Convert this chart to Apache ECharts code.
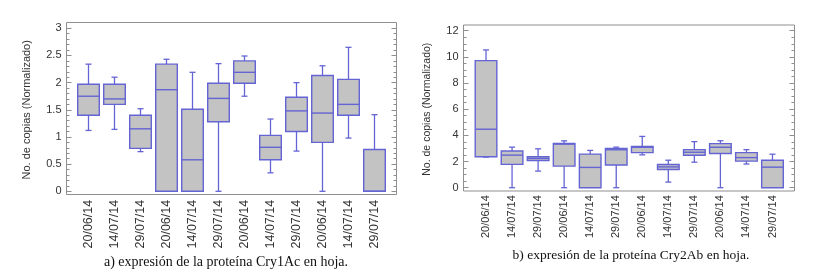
<!DOCTYPE html>
<html>
<head>
<meta charset="utf-8">
<script src="https://cdn.jsdelivr.net/npm/echarts@6/dist/echarts.min.js"></script>
<style>html,body{margin:0;padding:0;background:#fff;}#c{width:828px;height:280px;}</style>
</head>
<body>
<div id="c"></div>
<script>
// Category tick labels (same for both panels)
const categories = ['20/06/14','14/07/14','29/07/14','20/06/14','14/07/14','29/07/14',
                    '20/06/14','14/07/14','29/07/14','20/06/14','14/07/14','29/07/14'];
// Box statistics: [min, Q1, median, Q3, max]
const cry1Ac = [
  [1.12, 1.40, 1.75, 1.97, 2.34],
  [1.14, 1.60, 1.70, 1.97, 2.10],
  [0.73, 0.79, 1.15, 1.40, 1.52],
  [0.00, 0.00, 1.87, 2.34, 2.43],
  [0.00, 0.00, 0.58, 1.51, 2.19],
  [0.00, 1.28, 1.71, 1.99, 2.35],
  [1.75, 1.99, 2.19, 2.40, 2.49],
  [0.34, 0.58, 0.81, 1.03, 1.33],
  [0.74, 1.10, 1.48, 1.73, 2.00],
  [0.00, 0.90, 1.44, 2.13, 2.31],
  [0.98, 1.40, 1.60, 2.06, 2.65],
  [0.00, 0.00, 0.00, 0.77, 1.41]
];
const cry2Ab = [
  [2.34, 2.36, 4.47, 9.71, 10.53],
  [0.00, 1.78, 2.49, 2.80, 3.10],
  [1.27, 2.08, 2.24, 2.36, 2.97],
  [0.00, 1.65, 3.33, 3.38, 3.58],
  [0.00, 0.00, 1.55, 2.57, 2.85],
  [0.00, 1.73, 2.90, 3.00, 3.10],
  [2.51, 2.68, 3.09, 3.16, 3.92],
  [0.43, 1.39, 1.59, 1.77, 2.10],
  [1.95, 2.48, 2.71, 2.91, 3.52],
  [0.00, 2.61, 3.09, 3.37, 3.59],
  [1.81, 2.03, 2.30, 2.68, 2.91],
  [0.00, 0.00, 1.57, 2.10, 2.56]
];
const yNameA = 'No. de copias (Normalizado)';
const yNameB = 'No. de copias (Normalizado)';
const captionA = 'a) expresión de la proteína Cry1Ac en hoja.';
const captionB = 'b) expresión de la proteína Cry2Ab en hoja.';

const STROKE = '#6464d4';
const FILL = '#c3c3c3';
const FONT = 'Liberation Sans, Arial, sans-serif';

function renderBox(params, api) {
  const i = api.value(0);
  const vmin = api.value(1), q1 = api.value(2), med = api.value(3), q3 = api.value(4), vmax = api.value(5);
  const band = api.size([1, 0])[0];
  const half = band * 0.415;
  const cap = 3;
  const pMin = api.coord([i, vmin]);
  const pQ1 = api.coord([i, q1]);
  const pMed = api.coord([i, med]);
  const pQ3 = api.coord([i, q3]);
  const pMax = api.coord([i, vmax]);
  const x = pQ1[0];
  const children = [];
  const ls = {stroke: STROKE, lineWidth: 1.3, fill: null};
  if (vmax > q3) {
    children.push({type: 'line', shape: {x1: x, y1: pQ3[1], x2: x, y2: pMax[1]}, style: ls});
    children.push({type: 'line', shape: {x1: x - cap, y1: pMax[1], x2: x + cap, y2: pMax[1]}, style: ls});
  }
  if (vmin < q1) {
    children.push({type: 'line', shape: {x1: x, y1: pQ1[1], x2: x, y2: pMin[1]}, style: ls});
    children.push({type: 'line', shape: {x1: x - cap, y1: pMin[1], x2: x + cap, y2: pMin[1]}, style: ls});
  } else if (vmin === q1 && vmin > 0) {
    children.push({type: 'line', shape: {x1: x - cap, y1: pMin[1] + 1, x2: x + cap, y2: pMin[1] + 1}, style: ls});
  }
  children.push({type: 'rect', shape: {x: x - half, y: pQ3[1], width: half * 2, height: pQ1[1] - pQ3[1]},
                 style: {fill: FILL, stroke: STROKE, lineWidth: 1.4}});
  children.push({type: 'line', shape: {x1: x - half, y1: pMed[1], x2: x + half, y2: pMed[1]},
                 style: {stroke: STROKE, lineWidth: 1.4}});
  return {type: 'group', children};
}

function panel(cfg) {
  const g0 = cfg.idx * 3;
  const grids = [
    {left: cfg.frame.l, top: cfg.frame.t, width: cfg.frame.w, height: cfg.frame.h, show: true,
     borderColor: '#8f8f8f', borderWidth: 1, backgroundColor: 'transparent', containLabel: false},
    {left: cfg.frame.l, top: cfg.yg.t, width: cfg.frame.w, height: cfg.yg.h, containLabel: false},
    {left: cfg.data.l, top: cfg.yg.t, width: cfg.data.w, height: cfg.yg.h, containLabel: false}
  ];
  const xAxes = [
    {type: 'value', gridIndex: g0, show: false},
    {type: 'value', gridIndex: g0 + 1, show: false},
    {type: 'category', gridIndex: g0 + 2, data: categories, boundaryGap: true,
     axisLine: {show: false}, axisTick: {show: false}, splitLine: {show: false},
     axisLabel: {rotate: 90, interval: 0, margin: cfg.xMargin, fontSize: cfg.xLabelSize, color: '#333', fontFamily: FONT}}
  ];
  const yCommon = {
    type: 'value', min: 0, max: cfg.ymax, interval: cfg.interval,
    axisLine: {show: false}, splitLine: {show: false},
    axisTick: {show: true, inside: true, length: 5, lineStyle: {color: '#8f8f8f'}},
    minorTick: {show: true, splitNumber: cfg.minorSplit, length: 3, lineStyle: {color: '#8f8f8f'}}
  };
  const yAxes = [
    {type: 'value', gridIndex: g0, show: false},
    Object.assign({}, yCommon, {gridIndex: g0 + 1, position: 'left',
      name: cfg.yName, nameLocation: 'middle', nameGap: cfg.nameGap, nameRotate: 90,
      nameTextStyle: {fontSize: cfg.nameSize, color: '#333', fontFamily: FONT},
      axisLabel: {fontSize: 11, color: '#333', margin: 5, fontFamily: FONT}}),
    Object.assign({}, yCommon, {gridIndex: g0 + 1, position: 'right', axisLabel: {show: false}}),
    {type: 'value', gridIndex: g0 + 2, min: 0, max: cfg.ymax, show: false}
  ];
  const yBase = cfg.idx * 4;
  const series = [{
    type: 'custom', xAxisIndex: g0 + 2, yAxisIndex: yBase + 3,
    renderItem: renderBox,
    encode: {x: 0, y: [1, 2, 3, 4, 5]},
    data: cfg.values.map((v, i) => [i].concat(v)),
    silent: true
  }];
  return {grids, xAxes, yAxes, series};
}

const A = panel({idx: 0, frame: {l: 66.5, t: 22.5, w: 330, h: 172}, yg: {t: 28.3, h: 163},
  data: {l: 75.5, w: 312}, ymax: 3, interval: 0.5, minorSplit: 5,
  xMargin: 8.5, xLabelSize: 12.5, yName: yNameA, nameGap: 34, nameSize: 11, values: cry1Ac});
const B = panel({idx: 1, frame: {l: 463.5, t: 25, w: 331, h: 166}, yg: {t: 30.7, h: 157},
  data: {l: 473, w: 312.5}, ymax: 12, interval: 2, minorSplit: 4,
  xMargin: 7.5, xLabelSize: 11, yName: yNameB, nameGap: 31, nameSize: 10.5, values: cry2Ab});

const option = {
  backgroundColor: '#fff',
  animation: false,
  title: [
    {text: captionA, left: 221, top: 250, textAlign: 'center',
     textStyle: {fontFamily: 'Liberation Serif, Times New Roman, serif', fontSize: 14, fontWeight: 'normal', color: '#111'}},
    {text: captionB, left: 626, top: 243, textAlign: 'center',
     textStyle: {fontFamily: 'Liberation Serif, Times New Roman, serif', fontSize: 13.5, fontWeight: 'normal', color: '#111'}}
  ],
  grid: A.grids.concat(B.grids),
  xAxis: A.xAxes.concat(B.xAxes),
  yAxis: A.yAxes.concat(B.yAxes),
  series: A.series.concat(B.series)
};
const chart = echarts.init(document.getElementById('c'), null, {renderer: 'canvas'});
chart.setOption(option);
</script>
</body>
</html>
